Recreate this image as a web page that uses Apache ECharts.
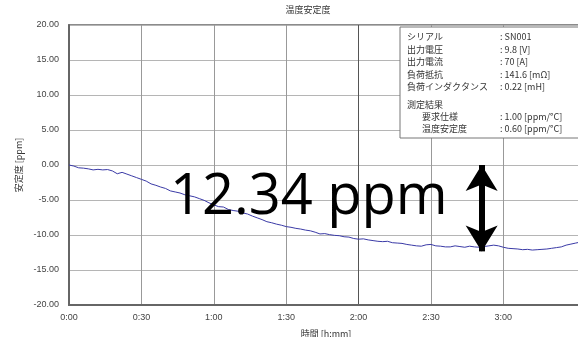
<!DOCTYPE html>
<html><head><meta charset="utf-8">
<script src="https://cdn.jsdelivr.net/npm/echarts@6/dist/echarts.min.js"></script>
<style>html,body{margin:0;padding:0;background:#fff}#c{width:578px;height:337px}</style>
</head><body><div id="c"></div>
<script>
var titleText = '温度安定度';
var xName = '時間 [h:mm]';
var yName = '安定度 [ppm]';
var timeMinutes = [0,2,4,6,8,10,12,14,16,18,20,22,24,26,28,30,32,34,36,38,40,42,44,46,48,50,52,54,56,58,60,62,64,66,68,70,72,74,76,78,80,82,84,86,88,90,92,94,96,98,100,102,104,106,108,110,112,114,116,118,120,122,124,126,128,130,132,134,136,138,140,142,144,146,148,150,152,154,156,158,160,162,164,166,168,170,172,174,176,178,180,182,184,186,188,190,192,194,196,198,200,202,204,206,208,210,212];
var stability = [0.00,-0.15,-0.40,-0.45,-0.55,-0.70,-0.62,-0.70,-0.65,-0.85,-1.25,-1.05,-1.30,-1.55,-1.80,-2.05,-2.30,-2.70,-2.90,-3.15,-3.35,-3.70,-3.85,-4.00,-4.25,-4.40,-4.55,-4.80,-5.05,-5.40,-5.70,-5.95,-6.00,-6.35,-6.50,-6.60,-6.85,-7.00,-7.30,-7.55,-7.80,-8.10,-8.25,-8.45,-8.60,-8.80,-8.90,-9.05,-9.15,-9.30,-9.40,-9.60,-9.85,-9.80,-9.95,-10.05,-10.10,-10.25,-10.30,-10.50,-10.60,-10.55,-10.70,-10.80,-10.90,-10.95,-10.90,-11.10,-11.15,-11.20,-11.35,-11.45,-11.55,-11.60,-11.40,-11.35,-11.55,-11.60,-11.70,-11.70,-11.55,-11.65,-11.75,-11.60,-11.70,-11.75,-11.65,-11.55,-11.45,-11.55,-11.75,-11.90,-11.95,-12.00,-12.10,-12.05,-12.15,-12.10,-12.05,-12.00,-11.90,-11.80,-11.70,-11.45,-11.30,-11.15,-11.00];
var xTickLabels = ['0:00','0:30','1:00','1:30','2:00','2:30','3:00'];
var yTicks = [20,15,10,5,0,-5,-10,-15,-20];
var annotationText = '12.34 ppm';
var annotationFrom = 0;
var annotationTo = -12.34;
var annotationTime = 171;
var infoLabels = ['シリアル','出力電圧','出力電流','負荷抵抗','負荷インダクタンス','測定結果','要求仕様','温度安定度'];
var infoValues = [': SN001',': 9.8 [V]',': 70 [A]',': 141.6 [mΩ]',': 0.22 [mH]','',': 1.00 [ppm/°C]',': 0.60 [ppm/°C]'];

var lineData = timeMinutes.map(function(t,i){return [t, stability[i]];});
var infoY = [37,50,62,75,87,105,117,129];
var infoIndent = [0,0,0,0,0,0,15,15];
var graphics = [{type:'rect', shape:{x:400,y:27,width:190,height:111}, style:{fill:'#fff', stroke:'#777', lineWidth:1}, z:50}];
infoLabels.forEach(function(l,i){
  graphics.push({type:'text', x:407+infoIndent[i], y:infoY[i], style:{text:l, font:'9px "Noto Sans CJK JP"', fill:'#333', textVerticalAlign:'middle'}, z:51});
  if (infoValues[i]) graphics.push({type:'text', x:500, y:infoY[i], style:{text:infoValues[i], font:'9px "Noto Sans CJK JP"', fill:'#333', textVerticalAlign:'middle'}, z:51});
});
graphics.push({type:'text', x:308, y:10, style:{text:titleText, font:'9px "Noto Sans CJK JP"', fill:'#333', textAlign:'center', textVerticalAlign:'middle'}});
graphics.push({type:'text', x:170, y:226, style:{text:annotationText, font:'56px "Open Sans"', fill:'#000', textAlign:'left', textVerticalAlign:'bottom'}, z:60});

var chart = echarts.init(document.getElementById('c'), null, {renderer:'canvas'});
chart.setOption({
  animation:false,
  backgroundColor:'#fff',
  grid:{left:69, top:25, bottom:32, right:-5, outerBoundsMode:'none', containLabel:false, show:true, borderColor:'#666', borderWidth:1.5, backgroundColor:'transparent'},
  xAxis:{type:'value', min:0, max:213, interval:30,
    name:xName, nameLocation:'middle', nameGap:24, nameTextStyle:{fontSize:9, color:'#333', fontFamily:'Noto Sans CJK JP'},
    axisLine:{show:true, onZero:false, lineStyle:{color:'#666', width:2}}, axisTick:{show:false},
    axisLabel:{fontSize:9, color:'#444', margin:8, fontFamily:'Liberation Sans', formatter:function(v){var i=Math.round(v/30); return (v%30===0 && i<xTickLabels.length)? xTickLabels[i] : '';}},
    splitLine:{show:true, lineStyle:{color:['#999','#999','#999','#999','#555','#999','#999','rgba(0,0,0,0)','rgba(0,0,0,0)'], width:1}}},
  yAxis:{type:'value', min:-20, max:20, interval:5,
    name:yName, nameLocation:'middle', nameGap:46, nameTextStyle:{fontSize:9, color:'#333', fontFamily:'Noto Sans CJK JP'},
    axisLine:{show:true, onZero:false, lineStyle:{color:'#666', width:2}}, axisTick:{show:false},
    axisLabel:{fontSize:9, color:'#444', margin:10, fontFamily:'Liberation Sans', formatter:function(v){return yTicks.indexOf(v)>=0 ? v.toFixed(2) : '';}},
    splitLine:{show:true, lineStyle:{color:'#b5b5b5', width:1}}},
  series:[{type:'line', data:lineData, showSymbol:false, symbol:'none', lineStyle:{color:'#3a3aa6', width:1}, z:3,
    markLine:{silent:true, symbol:['arrow','arrow'], symbolSize:[24,26], lineStyle:{color:'#000', width:6, type:'solid'}, label:{show:false}, z:70,
      data:[[{coord:[annotationTime, annotationFrom]},{coord:[annotationTime, annotationTo]}]]}}],
  graphic:graphics
});
</script></body></html>
